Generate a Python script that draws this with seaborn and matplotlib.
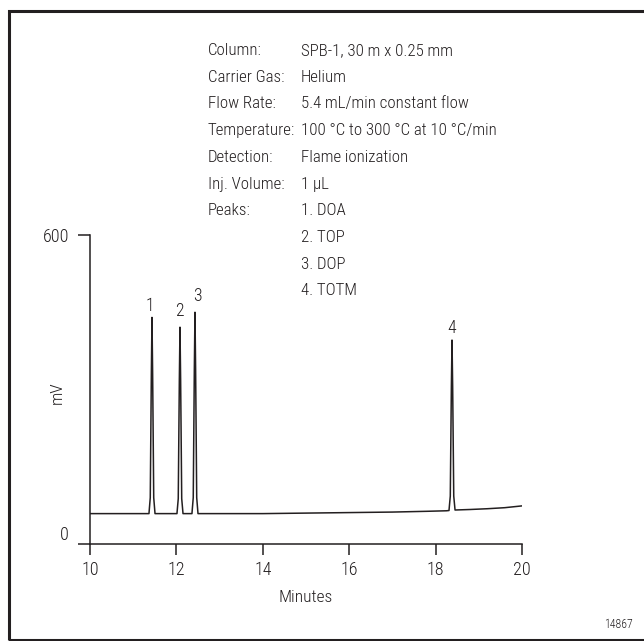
import matplotlib
matplotlib.use("Agg")
import matplotlib.pyplot as plt
import seaborn as sns
from matplotlib import font_manager
from matplotlib.patches import Rectangle
from matplotlib.transforms import ScaledTranslation

# Data: chromatogram trace (minutes, mV)
times = [10.0, 10.6, 11.0, 11.3,
         11.365, 11.395, 11.42, 11.435, 11.45, 11.475, 11.505,
         11.7, 11.9,
         12.013, 12.043, 12.068, 12.083, 12.098, 12.123, 12.153,
         12.25,
         12.36, 12.39, 12.415, 12.43, 12.445, 12.47, 12.50,
         12.8, 13.5, 14.0, 15.0, 16.0, 17.0, 17.8, 18.25,
         18.31, 18.34, 18.365, 18.38, 18.395, 18.42, 18.45,
         18.8, 19.2, 19.6, 20.0]
signal = [59, 59, 59, 59,
          59, 90, 330, 440, 330, 90, 59,
          59, 59,
          59, 88, 318, 421, 318, 88, 59,
          59,
          59, 90, 338, 450, 338, 90, 59,
          59, 59, 59, 60, 61, 62, 63.5, 64.5,
          65, 93, 305, 396, 305, 93, 66,
          67, 68.5, 70.5, 74]

peak_ids = ["1", "2", "3", "4"]
peak_label_t = [11.39, 12.06, 12.48, 18.36]
peak_label_mv = [462, 452, 482, 420]

info_keys = ["Column:", "Carrier Gas:", "Flow Rate:", "Temperature:",
             "Detection:", "Inj. Volume:", "Peaks:", "", "", ""]
info_vals = ["SPB-1, 30 m x 0.25 mm", "Helium", "5.4 mL/min constant flow",
             "100 °C to 300 °C at 10 °C/min", "Flame ionization", "1 µL",
             "1. DOA", "2. TOP", "3. DOP", "4. TOTM"]

x_ticks = [10, 12, 14, 16, 18, 20]
y_ticks = [0, 600]

sns.set_style("white")
names = {f.name for f in font_manager.fontManager.ttflist}
fs_info, fs_tick, fs_lab = 11, 12, 12
if "Roboto Condensed" in names:
    plt.rcParams["font.family"] = ["Roboto Condensed", "DejaVu Sans"]
    fs_info, fs_tick, fs_lab = 12.2, 13, 12.5
elif "Liberation Sans Narrow" in names:
    plt.rcParams["font.family"] = ["Liberation Sans Narrow", "DejaVu Sans"]
    fs_info, fs_tick, fs_lab = 12, 13, 12.5
else:
    plt.rcParams["font.family"] = ["DejaVu Sans"]
    plt.rcParams["font.stretch"] = "condensed"
plt.rcParams["font.weight"] = "light"
plt.rcParams["axes.labelweight"] = "light"

ink = "#231f20"
W, H = 644, 641
fig = plt.figure(figsize=(W / 100, H / 100), dpi=100)
ax = fig.add_axes([90 / W, 1 - 544 / H, 432 / W, 309 / H])

sns.lineplot(x=times, y=signal, ax=ax, color=ink, linewidth=1.1)

ax.set_xlim(10, 20)
ax.set_ylim(0, 600)
ax.set_xticks(x_ticks)
ax.set_yticks(y_ticks)
for s in ["top", "right"]:
    ax.spines[s].set_visible(False)
for s in ["left", "bottom"]:
    ax.spines[s].set_color(ink)
    ax.spines[s].set_linewidth(1.1)
ax.tick_params(axis="x", direction="out", length=8, width=1.1, color=ink,
               labelsize=fs_tick, labelcolor=ink, pad=4, bottom=True)
ax.tick_params(axis="y", direction="out", length=9, width=1.1, color=ink,
               labelsize=fs_tick, labelcolor=ink, pad=6, left=True)
# the "0" label sits a little above its tick
zero_lab = ax.get_yticklabels()[0]
zero_lab.set_transform(zero_lab.get_transform() + ScaledTranslation(0, 7.6 / 72, fig.dpi_scale_trans))

ax.set_xlabel("Minutes", fontsize=fs_lab, color=ink, labelpad=8, fontweight="light")
ax.set_ylabel("mV", fontsize=fs_lab, color=ink, fontweight="light")
ax.yaxis.set_label_coords(-0.058, 0.49)

for lab, t, mv in zip(peak_ids, peak_label_t, peak_label_mv):
    ax.text(t, mv, lab, ha="center", va="center", fontsize=fs_info + 0.5, color=ink)

# conditions block
base0 = 55
step = 26.7
for i, (k, v) in enumerate(zip(info_keys, info_vals)):
    yb = 1 - (base0 + i * step) / H
    if k:
        fig.text(208 / W, yb, k, ha="left", va="baseline", fontsize=fs_info, color=ink)
    fig.text(301 / W, yb, v, ha="left", va="baseline", fontsize=fs_info, color=ink)

fig.text(633 / W, 1 - 625 / H, "14867", ha="right", va="center", fontsize=8.5, color=ink)

# outer frame (right side runs off the picture)
fig.add_artist(Rectangle((9 / W, 1 - 640 / H), 1.0, (640 - 10.5) / H,
                         transform=fig.transFigure, fill=False,
                         edgecolor=ink, linewidth=2.2, clip_on=False))

fig.savefig("out.png", dpi=100)
